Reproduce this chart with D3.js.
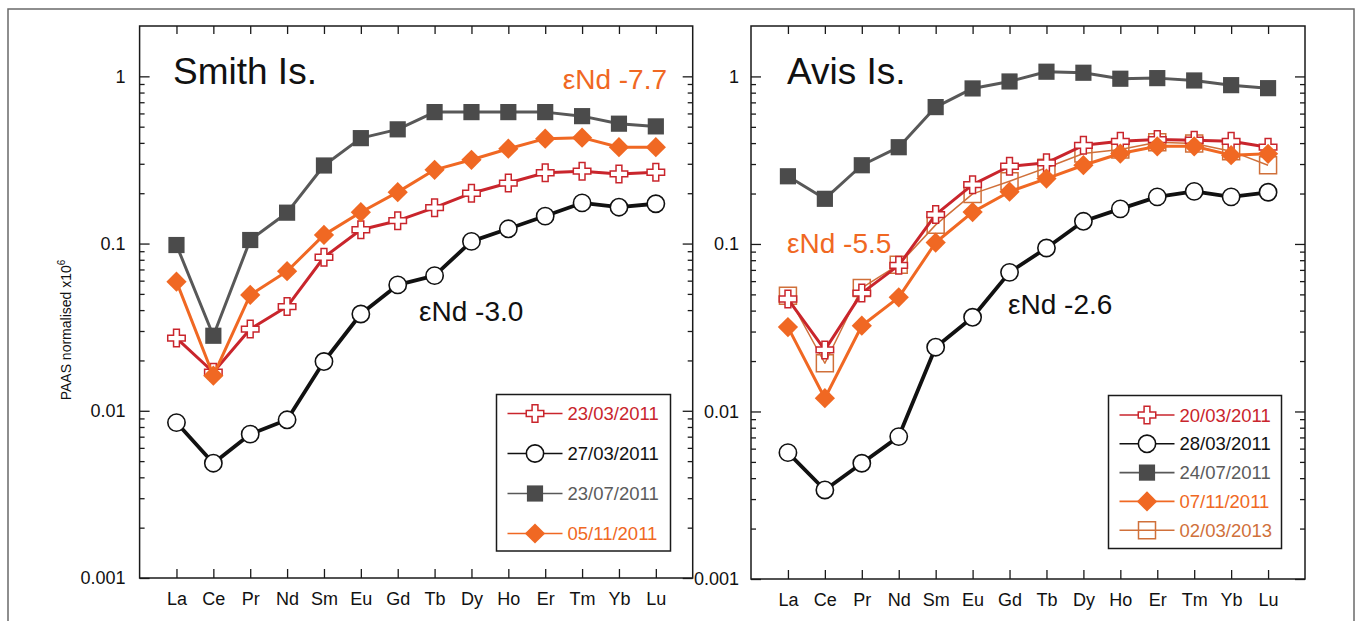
<!DOCTYPE html>
<html>
<head>
<meta charset="utf-8">
<script src="https://cdn.jsdelivr.net/npm/d3@7"></script>
<style>
  body { margin: 0; background: #ffffff; }
  svg { display: block; font-family: "Liberation Sans", Arial, Helvetica, sans-serif; }
</style>
</head>
<body>
<svg id="chart" width="1358" height="621"></svg>
<script>
// Rare earth elements along the x axis
const elements = ["La", "Ce", "Pr", "Nd", "Sm", "Eu", "Gd", "Tb", "Dy", "Ho", "Er", "Tm", "Yb", "Lu"];

// Log axis ticks
const yTickValues = [0.001, 0.01, 0.1, 1];
const yTickLabels = ["0.001", "0.01", "0.1", "1"];
const yMinorMultipliers = [2, 3, 4, 5, 6, 7, 8, 9];

// Smith Is. samples (PAAS normalised x10^6)
const smithDates = ["23/03/2011", "27/03/2011", "23/07/2011", "05/11/2011"];
const smith_20110323 = [0.0272, 0.0170, 0.0308, 0.0420, 0.0828, 0.121, 0.137, 0.164, 0.200, 0.230, 0.265, 0.271, 0.261, 0.267];
const smith_20110327 = [0.0085, 0.00486, 0.00725, 0.00883, 0.0197, 0.0379, 0.0566, 0.0643, 0.103, 0.1225, 0.146, 0.175, 0.165, 0.173];
const smith_20110723 = [0.098, 0.0281, 0.105, 0.153, 0.293, 0.427, 0.482, 0.611, 0.611, 0.611, 0.611, 0.578, 0.521, 0.502];
const smith_20111105 = [0.0592, 0.0162, 0.0493, 0.0683, 0.1127, 0.154, 0.203, 0.276, 0.317, 0.369, 0.424, 0.430, 0.377, 0.377];

// Avis Is. samples (PAAS normalised x10^6)
const avisDates = ["20/03/2011", "28/03/2011", "24/07/2011", "07/11/2011", "02/03/2013"];
const avis_20110320 = [0.0469, 0.0233, 0.0509, 0.0745, 0.1497, 0.226, 0.291, 0.305, 0.388, 0.410, 0.420, 0.416, 0.410, 0.378];
const avis_20110328 = [0.00568, 0.0034, 0.00491, 0.00708, 0.0242, 0.0365, 0.0677, 0.0946, 0.1365, 0.162, 0.191, 0.206, 0.191, 0.2035];
const avis_20110724 = [0.2535, 0.186, 0.295, 0.378, 0.656, 0.848, 0.933, 1.067, 1.052, 0.969, 0.977, 0.946, 0.887, 0.851];
const avis_20111107 = [0.0319, 0.0120, 0.0325, 0.048, 0.102, 0.155, 0.205, 0.2456, 0.295, 0.3466, 0.383, 0.383, 0.339, 0.345];
const avis_20130302 = [0.0491, 0.0194, 0.0546, 0.0752, 0.130, 0.199, 0.237, 0.285, 0.347, 0.366, 0.405, 0.398, 0.358, 0.295];

// Marker / line styles
const RED = "#c9252c", BLACK = "#111111", GRAY = "#4b4b4b", GRAYLINE = "#585858",
      ORANGE = "#f06823", BROWN = "#d0703a";

const styles = {
  cross:      { type: d3.symbolCross,  size: 170, fill: "#ffffff", stroke: RED,   sw: 1.5, line: RED,      lw: 3,   text: RED,      rotate: 0 },
  circle:     { type: d3.symbolCircle, size: 235, fill: "#ffffff", stroke: BLACK, sw: 1.6, line: BLACK,    lw: 3.8, text: BLACK,    rotate: 0 },
  square:     { type: d3.symbolSquare, size: 262, fill: GRAY,      stroke: "none", sw: 0, line: GRAYLINE, lw: 3,   text: "#5b5b5b", rotate: 0 },
  diamond:    { type: d3.symbolSquare, size: 205, fill: ORANGE,    stroke: "none", sw: 0, line: ORANGE,   lw: 3,   text: ORANGE,   rotate: 45 },
  openSquare: { type: d3.symbolSquare, size: 289, fill: "none",    stroke: BROWN, sw: 1.5, line: BROWN,    lw: 1.5, text: BROWN,    rotate: 0 }
};

const svg = d3.select("#chart");

// Figure border
svg.append("rect")
  .attr("x", 8).attr("y", 9).attr("width", 1346).attr("height", 700)
  .attr("fill", "none").attr("stroke", "#6a6a6a").attr("stroke-width", 1.5);

function drawPanel(cfg) {
  const x = d3.scalePoint().domain(elements).range([cfg.left, cfg.right]).padding(1);
  const y = d3.scaleLog().domain([0.001, 2]).range([cfg.bottom, cfg.top]);
  const g = svg.append("g");

  const minorTicks = [];
  yTickValues.forEach(v => yMinorMultipliers.forEach(m => { if (v * m < 2) minorTicks.push(v * m); }));

  const fmt = d => yTickLabels[yTickValues.indexOf(d)];

  // Left axis (labels + inward major ticks)
  const axL = g.append("g").attr("transform", `translate(${cfg.left},0)`)
    .call(d3.axisLeft(y).tickValues(yTickValues).tickFormat(fmt).tickSize(-10).tickPadding(cfg.labelPad));
  axL.append("g").call(d3.axisLeft(y).tickValues(minorTicks).tickFormat("").tickSize(-5));
  // Right axis (ticks only)
  const axR = g.append("g").attr("transform", `translate(${cfg.right},0)`)
    .call(d3.axisRight(y).tickValues(yTickValues).tickFormat("").tickSize(-10));
  axR.append("g").call(d3.axisRight(y).tickValues(minorTicks).tickFormat("").tickSize(-5));
  // Bottom axis with element labels
  g.append("g").attr("transform", `translate(0,${cfg.bottom})`)
    .call(d3.axisBottom(x).tickSize(-9).tickPadding(14));
  // Top axis ticks
  g.append("g").attr("transform", `translate(0,${cfg.top})`)
    .call(d3.axisTop(x).tickFormat("").tickSize(-8));

  g.selectAll(".domain").remove();
  g.selectAll(".tick line").attr("stroke", "#1a1a1a").attr("stroke-width", 1.3);
  g.selectAll(".tick text").attr("font-size", 18).attr("fill", "#111")
    .attr("font-family", "'Liberation Sans', Arial, sans-serif");

  // Plot frame
  g.append("rect")
    .attr("x", cfg.left).attr("y", cfg.top)
    .attr("width", cfg.right - cfg.left).attr("height", cfg.bottom - cfg.top)
    .attr("fill", "none").attr("stroke", "#1a1a1a").attr("stroke-width", 1.5);

  // Series: line then markers
  const line = d3.line().x((d, i) => x(elements[i])).y(d => y(d));
  cfg.series.forEach(s => {
    const st = styles[s.marker];
    g.append("path").datum(s.values)
      .attr("d", line).attr("fill", "none")
      .attr("stroke", st.line).attr("stroke-width", st.lw).attr("stroke-linejoin", "round");
    g.selectAll(null).data(s.values).enter().append("path")
      .attr("d", d3.symbol(st.type, st.size)())
      .attr("transform", (d, i) => `translate(${x(elements[i])},${y(d)}) rotate(${st.rotate})`)
      .attr("fill", st.fill).attr("stroke", st.stroke).attr("stroke-width", st.sw);
  });

  // Legend
  const L = cfg.legend;
  const lg = svg.append("g");
  lg.append("rect").attr("x", L.x).attr("y", L.y).attr("width", L.w).attr("height", L.h)
    .attr("fill", "#ffffff").attr("stroke", "#1a1a1a").attr("stroke-width", 1.5);
  cfg.legendOrder.forEach((s, i) => {
    const st = styles[s.marker];
    const ry = L.y + L.first + i * L.step;
    lg.append("line").attr("x1", L.x + 11).attr("x2", L.x + 66).attr("y1", ry).attr("y2", ry)
      .attr("stroke", st.line).attr("stroke-width", 1.6);
    lg.append("path").attr("d", d3.symbol(st.type, st.size)())
      .attr("transform", `translate(${L.x + 38.5},${ry}) rotate(${st.rotate})`)
      .attr("fill", st.fill).attr("stroke", st.stroke).attr("stroke-width", st.sw);
    lg.append("text").attr("x", L.x + 71).attr("y", ry + 6.5)
      .attr("font-size", 18.5).attr("fill", st.text).text(s.label);
  });

  // Annotations
  cfg.notes.forEach(n => {
    svg.append("text").attr("x", n.x).attr("y", n.y).attr("font-size", n.size)
      .attr("fill", n.color).attr("text-anchor", n.anchor || "start").text(n.text);
  });
}

// Smith Is.
const smithSeries = [
  { label: smithDates[2], marker: "square",  values: smith_20110723 },
  { label: smithDates[1], marker: "circle",  values: smith_20110327 },
  { label: smithDates[0], marker: "cross",   values: smith_20110323 },
  { label: smithDates[3], marker: "diamond", values: smith_20111105 }
];
drawPanel({
  left: 139.6, right: 692.7, top: 26, bottom: 578, labelPad: 14,
  series: smithSeries,
  legendOrder: [smithSeries[2], smithSeries[1], smithSeries[0], smithSeries[3]],
  legend: { x: 496.5, y: 394.5, w: 174, h: 156.5, first: 19, step: 40 },
  notes: [
    { text: "Smith Is.", x: 173, y: 84, size: 37, color: "#111" },
    { text: "εNd -7.7", x: 667, y: 89, size: 28, color: ORANGE, anchor: "end" },
    { text: "εNd -3.0", x: 419, y: 321, size: 28, color: "#111" }
  ]
});

// Avis Is.
const avisSeries = [
  { label: avisDates[2], marker: "square",     values: avis_20110724 },
  { label: avisDates[1], marker: "circle",     values: avis_20110328 },
  { label: avisDates[4], marker: "openSquare", values: avis_20130302 },
  { label: avisDates[0], marker: "cross",      values: avis_20110320 },
  { label: avisDates[3], marker: "diamond",    values: avis_20111107 }
];
drawPanel({
  left: 751, right: 1305, top: 26, bottom: 579, labelPad: 12,
  series: avisSeries,
  legendOrder: [avisSeries[3], avisSeries[1], avisSeries[0], avisSeries[4], avisSeries[2]],
  legend: { x: 1108.5, y: 395.5, w: 173, h: 153, first: 19.5, step: 28.8 },
  notes: [
    { text: "Avis Is.", x: 787, y: 84, size: 37, color: "#111" },
    { text: "εNd -5.5", x: 787, y: 253, size: 28, color: ORANGE },
    { text: "εNd -2.6", x: 1008, y: 314, size: 28, color: "#111" }
  ]
});

// Y axis title
const yt = svg.append("text")
  .attr("transform", "translate(71,330) rotate(-90)")
  .attr("text-anchor", "middle").attr("font-size", 14).attr("fill", "#111");
yt.append("tspan").text("PAAS normalised x10");
yt.append("tspan").attr("font-size", 10).attr("dy", -6).text("6");
</script>
</body>
</html>
